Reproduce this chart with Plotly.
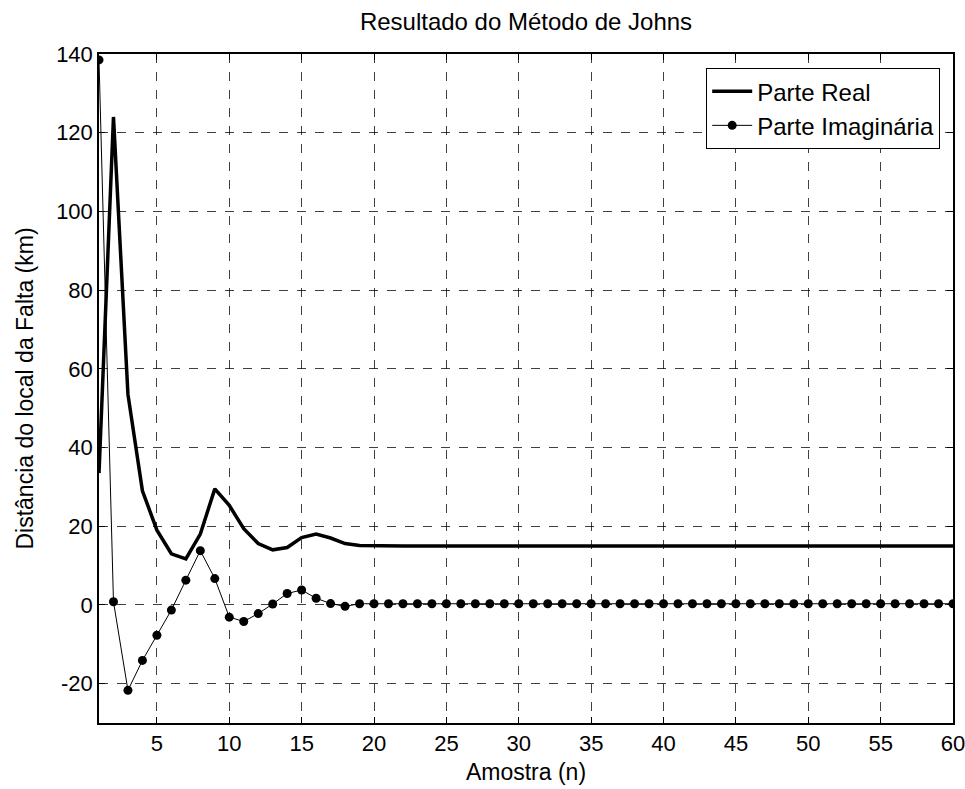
import plotly.graph_objects as go

# Amostras
amostra = list(range(1, 61))

# Parte real da distância estimada (km)
parte_real = [33.5, 124.0, 53.5, 29.0, 19.0, 13.0, 11.7, 18.0, 29.5, 25.3,
              19.4, 15.6, 14.0, 14.6, 17.1, 18.0, 17.0, 15.6, 15.1, 15.0] + [15.0] * 40

# Parte imaginária da distância estimada (km)
parte_imag = [138.5, 0.8, -21.7, -14.1, -7.7, -1.3, 6.3, 13.8, 6.7, -3.1,
              -4.2, -2.2, 0.25, 2.9, 3.8, 1.7, 0.35, -0.35, 0.3, 0.3] + [0.3] * 40

x_ticks = list(range(5, 61, 5))
y_ticks = list(range(-20, 141, 20))
y_labels = [str(v) for v in y_ticks]  # hífen simples no sinal negativo

fig = go.Figure()
fig.add_trace(go.Scatter(
    x=amostra, y=parte_real, mode="lines", name="Parte Real",
    line=dict(color="black", width=3.5),
))
fig.add_trace(go.Scatter(
    x=amostra, y=parte_imag, mode="lines+markers", name="Parte Imaginária",
    line=dict(color="black", width=1),
    marker=dict(color="black", size=9),
))

axis_common = dict(
    showline=True, linecolor="black", linewidth=1.5, mirror="ticks",
    ticks="inside", ticklen=6, tickcolor="black",
    showgrid=True, gridcolor="rgba(0,0,0,0.75)", griddash="dash", gridwidth=1,
    zeroline=False, automargin=False, ticklabeloverflow="allow",
    tickfont=dict(size=22, color="black"),
)

fig.update_xaxes(range=[1, 60], tickvals=x_ticks,
                 title=dict(text="Amostra (n)", font=dict(size=23, color="black"), standoff=9),
                 **axis_common)
fig.update_yaxes(range=[-30, 140], tickvals=y_ticks, ticktext=y_labels,
                 title=dict(text="Distância do local da Falta (km)", font=dict(size=23, color="black"), standoff=16),
                 **axis_common)

fig.update_layout(
    template="none",
    width=965, height=789,
    margin=dict(l=99, r=12, t=54, b=66),
    paper_bgcolor="white", plot_bgcolor="white",
    font=dict(family="Liberation Sans, Arial, sans-serif", color="black"),
    title=dict(text="Resultado do Método de Johns", x=0.5, xref="paper", xanchor="center",
               y=0.973, yanchor="middle", font=dict(size=24, color="black")),
    legend=dict(x=0.985, y=0.979, xanchor="right", yanchor="top",
                bgcolor="white", bordercolor="black", borderwidth=1,
                font=dict(size=24, color="black"), tracegroupgap=0,
                itemwidth=40),
    showlegend=True,
)

fig.write_html("out.html")
